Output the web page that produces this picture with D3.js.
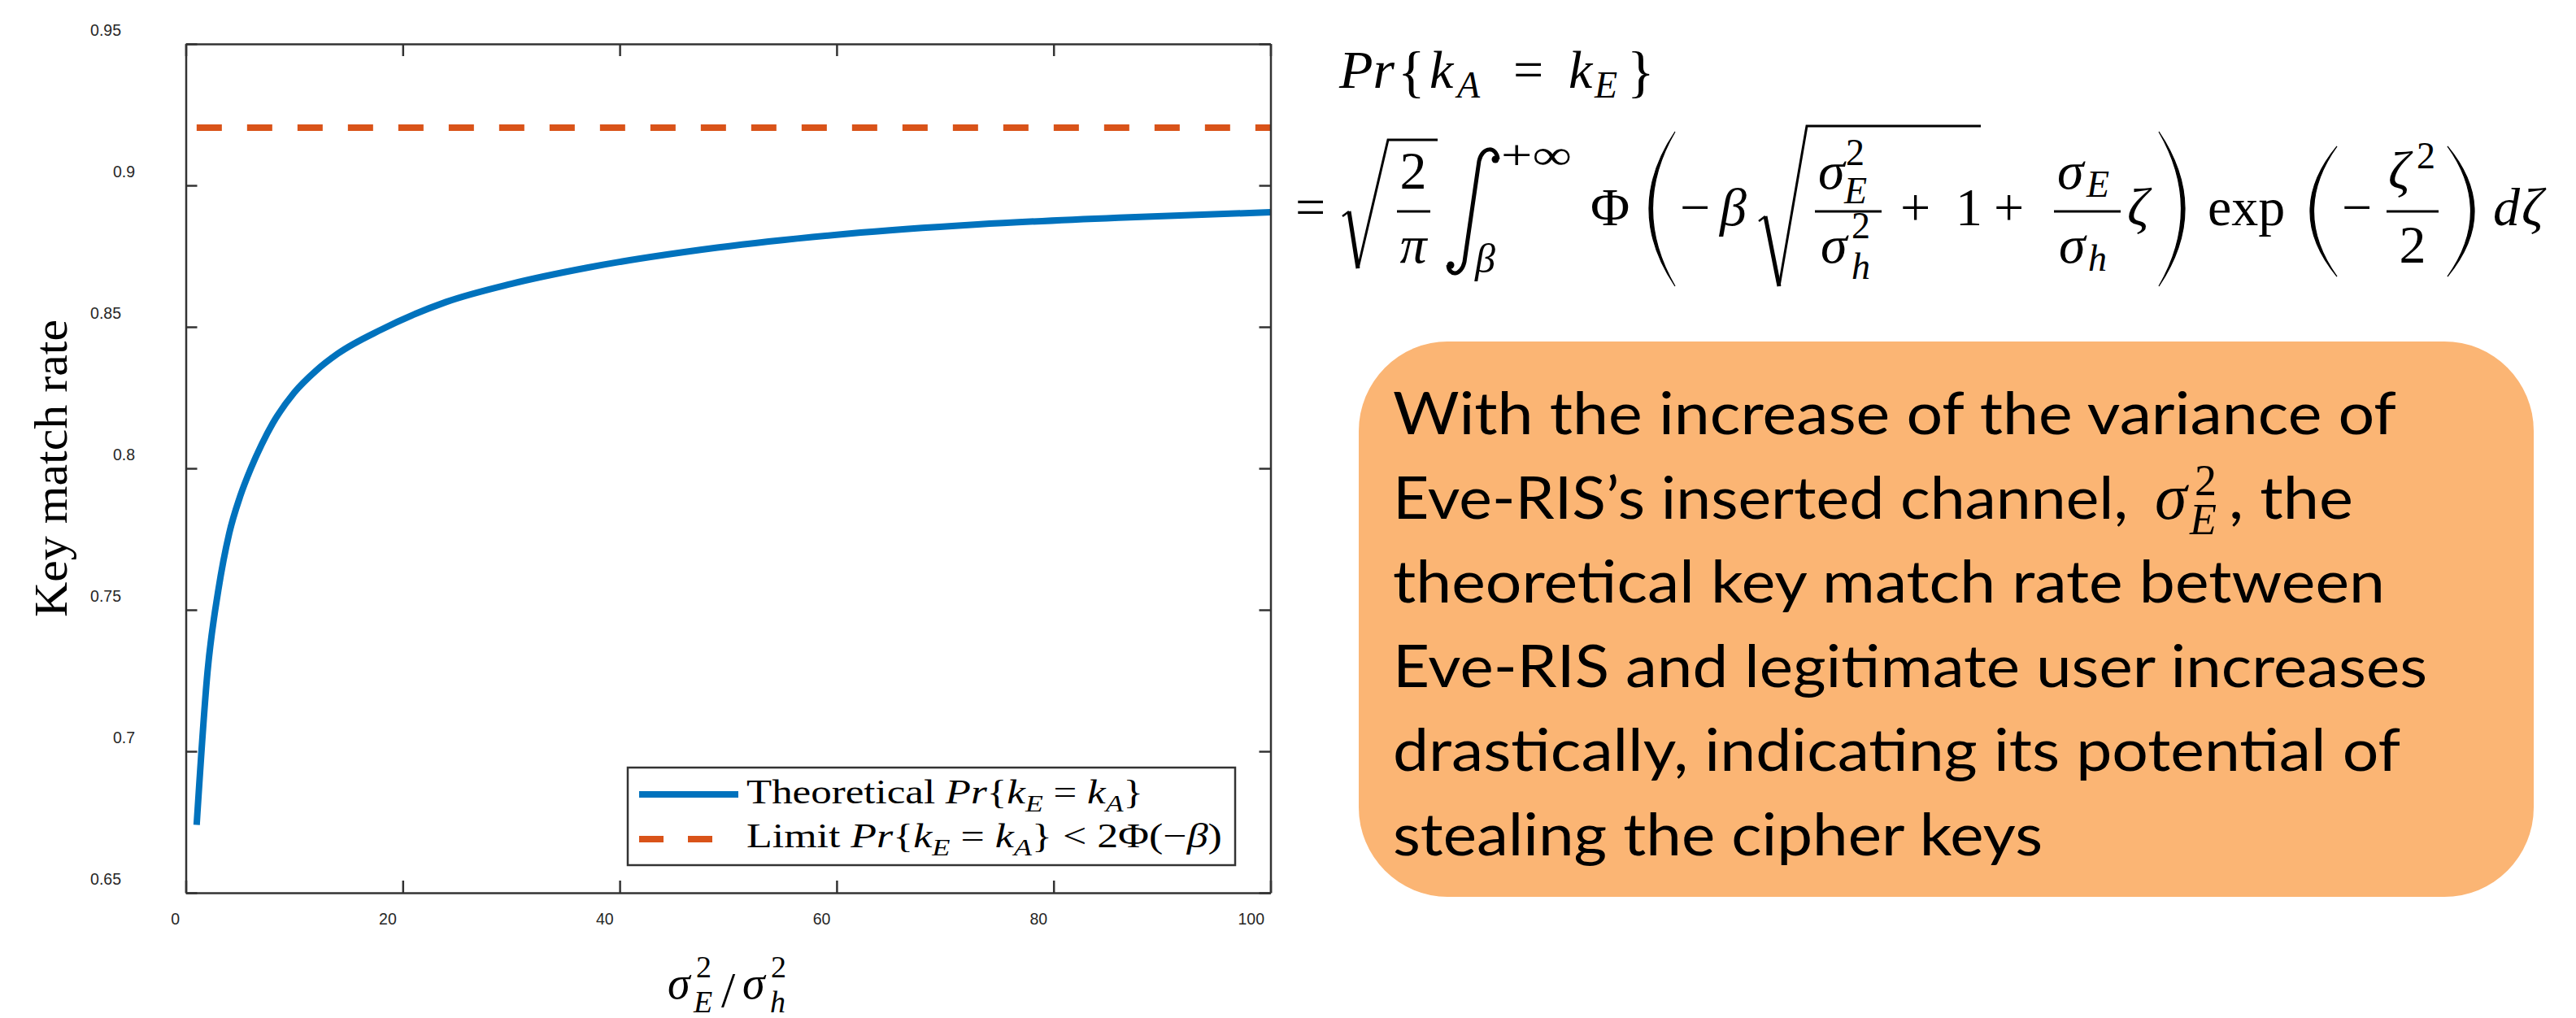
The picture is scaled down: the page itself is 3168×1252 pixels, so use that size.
<!DOCTYPE html>
<html>
<head>
<meta charset="utf-8">
<script src="https://cdn.jsdelivr.net/npm/d3@7"></script>
<style>
  body { margin: 0; background: #fff; }
  svg { display: block; }
</style>
</head>
<body>
<script>
// values
var ratio = [1, 2, 3, 4, 5, 6, 7, 8, 10, 12, 14, 18, 24, 30, 37, 49, 61, 73, 86, 100];
var matchRate = [0.674, 0.728, 0.757, 0.777, 0.790, 0.800, 0.8085, 0.8158, 0.8268, 0.8345, 0.8405,
                 0.8490, 0.8588, 0.8652, 0.8709, 0.8780, 0.8829, 0.8862, 0.8886, 0.8905];
var limitRatio = [1, 100];
var limitRate = [0.9204, 0.9204];
var xTicks = [0, 20, 40, 60, 80, 100];
var xTickLabels = ['0', '20', '40', '60', '80', '100'];
var yTicks = [0.65, 0.7, 0.75, 0.8, 0.85, 0.9, 0.95];
var yTickLabels = ['0.65', '0.7', '0.75', '0.8', '0.85', '0.9', '0.95'];
var noteLines = [
  'With the increase of the variance of',
  null,
  'theoretical key match rate between',
  'Eve-RIS and legitimate user increases',
  'drastically, indicating its potential of',
  'stealing the cipher keys'
];
var noteWidths = [1234, null, 1220, 1272, 1239, 799];

var width = 3168, height = 1252,
    blue = '#0072BD', orange = '#D95319', axisColor = '#333',
    serif = "'Liberation Serif','Times New Roman',serif",
    sans = "'Liberation Sans',Arial,sans-serif";

var svg = d3.select('body').append('svg').attr('width', width).attr('height', height);

var x = d3.scaleLinear().domain([0, 100]).range([228.5, 1562.5]),
    y = d3.scaleLinear().domain([0.65, 0.95]).range([1098, 54]);

// data lines
var line = d3.line().x(function(d) { return x(d[0]); }).y(function(d) { return y(d[1]); });

svg.append('path')
  .attr('d', line.curve(d3.curveMonotoneX)(d3.zip(ratio, matchRate)))
  .attr('fill', 'none').attr('stroke', blue).attr('stroke-width', 8);

svg.append('path')
  .attr('d', line.curve(d3.curveLinear)(d3.zip(limitRatio, limitRate)))
  .attr('fill', 'none').attr('stroke', orange).attr('stroke-width', 8)
  .attr('stroke-dasharray', '31,31');

// axes, matlab box style with inward ticks
function styleAxis(g) {
  g.select('.domain').attr('stroke', axisColor).attr('stroke-width', 2.5);
  g.selectAll('.tick line').attr('stroke', axisColor).attr('stroke-width', 2.5);
  g.selectAll('.tick text').attr('fill', '#262626').attr('font-family', sans).attr('font-size', 19.5);
}

svg.append('g')
  .attr('transform', 'translate(0,' + y(0.65) + ')')
  .call(d3.axisBottom(x).tickValues(xTicks).tickSize(-15).tickSizeOuter(0)
        .tickFormat(function(d, i) { return xTickLabels[i]; }))
  .call(styleAxis)
  .selectAll('.tick text')
    .attr('text-anchor', 'end').attr('x', -8).attr('y', 39).attr('dy', 0);

svg.append('g')
  .attr('transform', 'translate(' + x(0) + ',0)')
  .call(d3.axisLeft(y).tickValues(yTicks).tickSize(-14).tickSizeOuter(0)
        .tickFormat(function(d, i) { return yTickLabels[i]; }))
  .call(styleAxis)
  .selectAll('.tick text')
    .attr('text-anchor', 'end')
    .attr('x', function(d, i) { return yTickLabels[i].length === 4 ? -79.5 : -62.5; })
    .attr('y', -11).attr('dy', 0);

svg.append('g')
  .attr('transform', 'translate(0,' + y(0.95) + ')')
  .call(d3.axisTop(x).tickValues(xTicks).tickSize(-15).tickSizeOuter(0).tickFormat(''))
  .call(styleAxis);

svg.append('g')
  .attr('transform', 'translate(' + x(100) + ',0)')
  .call(d3.axisRight(y).tickValues(yTicks).tickSize(-14).tickSizeOuter(0).tickFormat(''))
  .call(styleAxis);

// axis titles
svg.append('text')
  .attr('transform', 'translate(82,576) rotate(-90)')
  .attr('text-anchor', 'middle')
  .attr('font-family', serif).attr('font-size', 56)
  .attr('textLength', 366).attr('lengthAdjust', 'spacingAndGlyphs')
  .text('Key match rate');

function put(g, s, px, py, size, italic, anchor) {
  return g.append('text')
    .attr('x', px).attr('y', py)
    .attr('font-family', serif).attr('font-size', size)
    .attr('font-style', italic ? 'italic' : 'normal')
    .attr('text-anchor', anchor || 'start')
    .attr('fill', '#000')
    .text(s);
}

var xLab = svg.append('g');
put(xLab, 'σ', 821, 1228, 56, true);
put(xLab, '2', 856, 1202, 38, false);
put(xLab, 'E', 853, 1245, 38, true);
put(xLab, '/', 887, 1238, 62, false);
put(xLab, 'σ', 913, 1228, 56, true);
put(xLab, '2', 948, 1202, 38, false);
put(xLab, 'h', 947, 1245, 38, true);

// legend
var legend = svg.append('g');
legend.append('rect')
  .attr('x', 772).attr('y', 944).attr('width', 747).attr('height', 120)
  .attr('fill', '#fff').attr('stroke', axisColor).attr('stroke-width', 2.5);
legend.append('line')
  .attr('x1', 786).attr('x2', 908).attr('y1', 977).attr('y2', 977)
  .attr('stroke', blue).attr('stroke-width', 8);
legend.append('line')
  .attr('x1', 786).attr('x2', 877).attr('y1', 1032).attr('y2', 1032)
  .attr('stroke', orange).attr('stroke-width', 8).attr('stroke-dasharray', '30,30');

function mathLine(g, parts, px, py, size, target) {
  var t = g.append('text').attr('x', px).attr('y', py)
    .attr('font-family', serif).attr('font-size', size);
  var shift = 0;
  parts.forEach(function(p) {
    var want = p.sub ? size * 0.24 : 0;
    t.append('tspan')
      .attr('dy', want - shift)
      .attr('font-size', p.sub ? size * 0.7 : size)
      .attr('font-style', p.it ? 'italic' : 'normal')
      .text(p.s);
    shift = want;
  });
  var b = t.node().getBBox();
  var k = target / b.width;
  t.attr('transform', 'translate(' + px + ',0) scale(' + k + ',1) translate(' + (-b.x) + ',0)');
  return t;
}

mathLine(legend, [
  {s: 'Theoretical '}, {s: 'Pr', it: 1}, {s: '{'}, {s: 'k', it: 1}, {s: 'E', it: 1, sub: 1},
  {s: ' = '}, {s: 'k', it: 1}, {s: 'A', it: 1, sub: 1}, {s: '}'}
], 918, 988, 42, 488);

mathLine(legend, [
  {s: 'Limit '}, {s: 'Pr', it: 1}, {s: '{'}, {s: 'k', it: 1}, {s: 'E', it: 1, sub: 1},
  {s: ' = '}, {s: 'k', it: 1}, {s: 'A', it: 1, sub: 1}, {s: '} < 2Φ(−'}, {s: 'β', it: 1}, {s: ')'}
], 918, 1042, 42, 585);

// formula
var eq = svg.append('g');
var M = 66, S = 46;

put(eq, 'Pr', 1647, 108, M, true).attr('textLength', 68).attr('lengthAdjust', 'spacingAndGlyphs');
put(eq, '{', 1719, 112, 70, false);
put(eq, 'k', 1758, 108, M, true);
put(eq, 'A', 1792, 120, S, true);
put(eq, '=', 1861, 108, M, false);
put(eq, 'k', 1929, 108, M, true);
put(eq, 'E', 1961, 120, S, true);
put(eq, '}', 2001, 112, 70, false);

function paren(x0, x1, y0, y1, left) {
  var ym = (y0 + y1) / 2, t = 4.5, d;
  if (left) {
    d = 'M' + x1 + ',' + y0 + 'Q' + (2 * x0 - x1) + ',' + ym + ' ' + x1 + ',' + y1 +
        'Q' + (2 * (x0 + t) - x1) + ',' + ym + ' ' + x1 + ',' + y0 + 'Z';
  } else {
    d = 'M' + x0 + ',' + y0 + 'Q' + (2 * x1 - x0) + ',' + ym + ' ' + x0 + ',' + y1 +
        'Q' + (2 * (x1 - t) - x0) + ',' + ym + ' ' + x0 + ',' + y0 + 'Z';
  }
  eq.append('path').attr('d', d).attr('fill', '#000').attr('stroke', '#000').attr('stroke-width', 1.2);
}

function radical(a, b, c, top, end) {
  // a: hook start, b: bottom point, c: top point
  eq.append('path')
    .attr('d', 'M' + a[0] + ',' + a[1] + 'L' + (a[0] + 8) + ',' + (a[1] - 6))
    .attr('stroke', '#000').attr('stroke-width', 2.5).attr('fill', 'none');
  eq.append('path')
    .attr('d', 'M' + (a[0] + 8) + ',' + (a[1] - 6) + 'L' + b[0] + ',' + b[1])
    .attr('stroke', '#000').attr('stroke-width', 5).attr('fill', 'none');
  eq.append('path')
    .attr('d', 'M' + b[0] + ',' + b[1] + 'L' + c[0] + ',' + top + 'L' + end + ',' + top)
    .attr('stroke', '#000').attr('stroke-width', 3).attr('fill', 'none')
    .attr('stroke-linejoin', 'miter');
}

function bar(x0, x1) {
  eq.append('line').attr('x1', x0).attr('x2', x1).attr('y1', 260).attr('y2', 260)
    .attr('stroke', '#000').attr('stroke-width', 3);
}

put(eq, '=', 1593, 277, M, false);
radical([1651, 266], [1670, 330], [1707], 172, 1768);
bar(1718, 1759);
put(eq, '2', 1738, 232, M, false, 'middle');
put(eq, 'π', 1738, 323, M, true, 'middle');

// integral sign
eq.append('path')
  .attr('d', 'M1842,196 C1841,180 1823,179 1819,198 L1801,322 C1797,340 1782,340 1781,326')
  .attr('fill', 'none').attr('stroke', '#000').attr('stroke-width', 5);
eq.append('circle').attr('cx', 1839).attr('cy', 196).attr('r', 4.5).attr('fill', '#000');
eq.append('circle').attr('cx', 1784).attr('cy', 326).attr('r', 4.5).attr('fill', '#000');
put(eq, '+∞', 1846, 208, 52, false).attr('textLength', 87).attr('lengthAdjust', 'spacingAndGlyphs');
put(eq, 'β', 1814, 335, 50, true);

put(eq, 'Φ', 1956, 277, M, false);
paren(2028, 2060, 162, 352, true);
put(eq, '−', 2066, 277, M, false);
put(eq, 'β', 2115, 277, M, true);
radical([2163, 272], [2188, 352], [2222], 155, 2436);
bar(2232, 2314);
put(eq, 'σ', 2236, 232, M, true);
put(eq, '2', 2270, 203, S, false);
put(eq, 'E', 2268, 250, S, true);
put(eq, 'σ', 2239, 323, M, true);
put(eq, '2', 2277, 293, S, false);
put(eq, 'h', 2277, 343, S, true);
put(eq, '+', 2337, 277, M, false);
put(eq, '1', 2405, 277, M, false);
put(eq, '+', 2452, 277, M, false);
bar(2526, 2608);
put(eq, 'σ', 2530, 232, M, true);
put(eq, 'E', 2566, 242, S, true);
put(eq, 'σ', 2532, 323, M, true);
put(eq, 'h', 2568, 333, S, true);
put(eq, 'ζ', 2616, 277, M, true);
paren(2655, 2687, 162, 352, false);
put(eq, 'exp', 2715, 277, M, false);
paren(2841, 2874, 180, 340, true);
put(eq, '−', 2880, 277, M, false);
bar(2935, 2999);
put(eq, 'ζ', 2937, 232, M, true);
put(eq, '2', 2972, 207, S, false);
put(eq, '2', 2967, 323, M, false, 'middle');
paren(3010, 3043, 180, 340, false);
put(eq, 'd', 3066, 277, M, true);
put(eq, 'ζ', 3101, 277, M, true);

// note box
var note = svg.append('g');
note.append('rect')
  .attr('x', 1671).attr('y', 420).attr('width', 1445).attr('height', 683)
  .attr('rx', 110).attr('ry', 110)
  .attr('fill', '#FBB574');

var noteFont = "Lato,'Open Sans',sans-serif";
noteLines.forEach(function(s, i) {
  if (!s) return;
  note.append('text')
    .attr('x', 1713).attr('y', 534 + i * 103.5)
    .attr('font-family', noteFont).attr('font-size', 72)
    .attr('textLength', noteWidths[i]).attr('lengthAdjust', 'spacingAndGlyphs')
    .attr('fill', '#000')
    .text(s);
});
var yl2 = 534 + 103.5;
note.append('text').attr('x', 1713).attr('y', yl2)
  .attr('font-family', noteFont).attr('font-size', 72)
  .attr('textLength', 904).attr('lengthAdjust', 'spacingAndGlyphs')
  .text('Eve-RIS’s inserted channel,');
put(note, 'σ', 2650, yl2, 80, true);
put(note, '2', 2699, yl2 - 29, 54, false);
put(note, 'E', 2693, yl2 + 19, 54, true);
note.append('text').attr('x', 2741).attr('y', yl2)
  .attr('font-family', noteFont).attr('font-size', 72)
  .attr('textLength', 153).attr('lengthAdjust', 'spacingAndGlyphs')
  .text(', the');
</script>
</body>
</html>
